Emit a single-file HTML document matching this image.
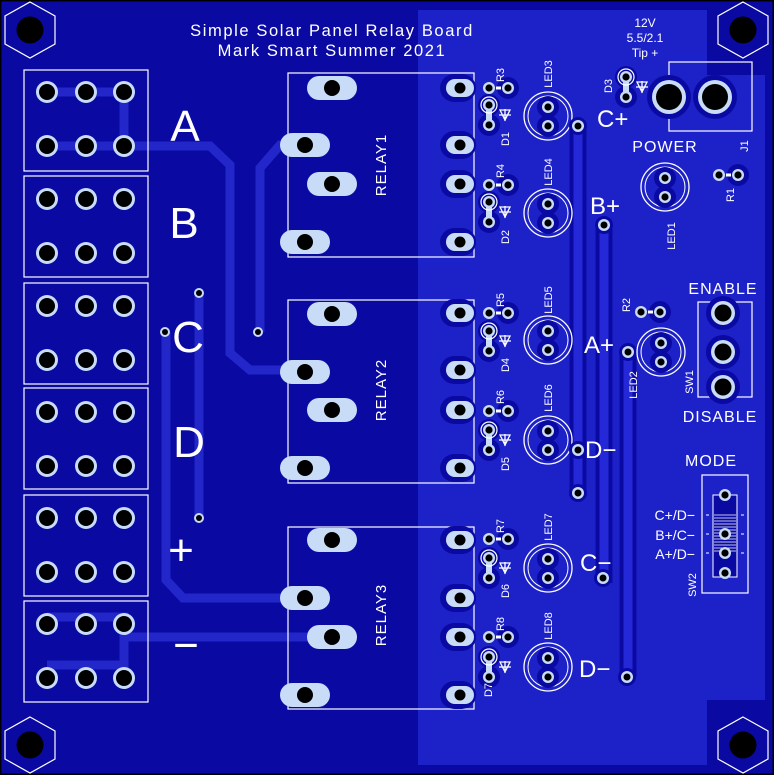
<!DOCTYPE html>
<html><head><meta charset="utf-8"><style>
html,body{margin:0;padding:0;background:#0a0aa3}
svg{display:block}
text{font-family:"Liberation Sans","DejaVu Sans",sans-serif;fill:#fff}
</style></head><body>
<svg width="774" height="775" viewBox="0 0 774 775" xmlns="http://www.w3.org/2000/svg">
<defs>
<g id="sp"><circle r="6" fill="#c8dcf8"/><circle r="3.6" fill="#000"/></g>
<g id="th"><circle r="11" fill="#c8dcf8"/><circle r="8" fill="#000"/></g>
<g id="ovL"><rect x="-25" y="-12" width="50" height="24" rx="12" fill="#c8dcf8"/><circle r="8" fill="#000"/></g>
<g id="ovS"><rect x="-20" y="-14" width="36" height="28" rx="14" fill="#0a0aa3"/><rect x="-14" y="-9" width="28" height="18" rx="9" fill="#c8dcf8"/><circle r="5.5" fill="#000"/></g>
<g id="hex"><polygon points="0,-28 25,-14 25,14 0,28 -25,14 -25,-14" fill="none" stroke="#fff" stroke-width="1.2"/><circle r="13.5" fill="#000"/></g>
<g id="led"><circle r="24" fill="none" stroke="#fff" stroke-width="1.3"/><circle r="20" fill="none" stroke="#fff" stroke-width="1"/><circle cy="-9" r="11" fill="#0a0aa3"/><circle cy="10" r="11" fill="#0a0aa3"/><use href="#sp" y="-9"/><use href="#sp" y="10"/></g>
<g id="res"><circle cx="19" r="11" fill="#0a0aa3"/><use href="#sp"/><use href="#sp" x="19"/><rect x="7" y="-1.5" width="5" height="3" fill="#fff"/></g>
<g id="dio"><circle r="11" fill="#0a0aa3"/><circle cy="20" r="11" fill="#0a0aa3"/><rect x="-3" y="0" width="6" height="20" fill="#c8dcf8"/><use href="#sp"/><use href="#sp" y="20"/><circle r="8" fill="none" stroke="#fff" stroke-width="1.2"/>
<path d="M10,10 h12 M16,4 v12 M11,5 l5,10 l5,-10 z" stroke="#fff" stroke-width="1.3" fill="none"/></g>
</defs>
<rect width="774" height="775" fill="#0a0aa3"/>
<rect x="0.5" y="0.5" width="773" height="774" fill="none" stroke="#000" stroke-width="2"/>
<path d="M418,10 H707 V75 H765 V700 H707 V765 H418 Z" fill="#1d22c8"/>
<g stroke="#2326c9" stroke-width="9" fill="none">
<path d="M47,92 H124 V146 H47 M124,146 H210 L230,165 V353 L250,370 H305"/>
<path d="M305,145 H280 L260,168 V332"/>
<path d="M199,293 V518"/>
<path d="M166,332 V580 L183,598 H305"/>
<path d="M47,617 H124 V665 H47 M124,637 H332"/>
</g>
<g fill="none">
<path d="M578,126 V493" stroke="#0a0aa3" stroke-width="17"/>
<path d="M604,225 V583" stroke="#0a0aa3" stroke-width="17"/>
<path d="M628,352 V677" stroke="#0a0aa3" stroke-width="17"/>
<path d="M578,126 V493" stroke="#2428d6" stroke-width="9"/>
<path d="M604,225 V583" stroke="#2428d6" stroke-width="9"/>
<path d="M628,352 V677" stroke="#2428d6" stroke-width="9"/>
</g>
<use href="#hex" x="30" y="30"/><use href="#hex" x="743" y="30"/>
<use href="#hex" x="30" y="745"/><use href="#hex" x="743" y="745"/>
<text x="332" y="36" font-size="16.5" text-anchor="middle" letter-spacing="1.6">Simple Solar Panel Relay Board</text>
<text x="332" y="56" font-size="16.5" text-anchor="middle" letter-spacing="1.6">Mark Smart Summer 2021</text>
<g fill="none" stroke="#fff" stroke-width="1.2">
<rect x="24" y="70" width="124" height="101"/><rect x="24" y="176" width="124" height="101"/>
<rect x="24" y="283" width="124" height="101"/><rect x="24" y="388" width="124" height="101"/>
<rect x="24" y="495" width="124" height="101"/><rect x="24" y="601" width="124" height="101"/>
</g>
<g>
<use href="#th" x="47" y="92"/><use href="#th" x="86" y="92"/><use href="#th" x="124" y="92"/>
<use href="#th" x="47" y="146"/><use href="#th" x="86" y="146"/><use href="#th" x="124" y="146"/>
<use href="#th" x="47" y="199"/><use href="#th" x="86" y="199"/><use href="#th" x="124" y="199"/>
<use href="#th" x="47" y="253"/><use href="#th" x="86" y="253"/><use href="#th" x="124" y="253"/>
<use href="#th" x="47" y="306"/><use href="#th" x="86" y="306"/><use href="#th" x="124" y="306"/>
<use href="#th" x="47" y="360"/><use href="#th" x="86" y="360"/><use href="#th" x="124" y="360"/>
<use href="#th" x="47" y="412"/><use href="#th" x="86" y="412"/><use href="#th" x="124" y="412"/>
<use href="#th" x="47" y="466"/><use href="#th" x="86" y="466"/><use href="#th" x="124" y="466"/>
<use href="#th" x="47" y="518"/><use href="#th" x="86" y="518"/><use href="#th" x="124" y="518"/>
<use href="#th" x="47" y="572"/><use href="#th" x="86" y="572"/><use href="#th" x="124" y="572"/>
<use href="#th" x="47" y="624"/><use href="#th" x="86" y="624"/><use href="#th" x="124" y="624"/>
<use href="#th" x="47" y="678"/><use href="#th" x="86" y="678"/><use href="#th" x="124" y="678"/>
</g>
<g font-size="44">
<text x="185" y="141" text-anchor="middle">A</text>
<text x="184" y="238" text-anchor="middle">B</text>
<text x="188" y="352" text-anchor="middle">C</text>
<text x="189" y="457" text-anchor="middle">D</text>
<text x="181" y="565" text-anchor="middle">+</text>
<text x="186" y="660" text-anchor="middle">−</text>
</g>
<g><circle cx="199" cy="293" r="5" fill="#c8dcf8"/><circle cx="199" cy="293" r="3" fill="#000"/>
<circle cx="165" cy="332" r="5" fill="#c8dcf8"/><circle cx="165" cy="332" r="3" fill="#000"/>
<circle cx="258" cy="332" r="5" fill="#c8dcf8"/><circle cx="258" cy="332" r="3" fill="#000"/>
<circle cx="199" cy="518" r="5" fill="#c8dcf8"/><circle cx="199" cy="518" r="3" fill="#000"/></g>
<g fill="none" stroke="#fff" stroke-width="1.2">
<rect x="288" y="73" width="186" height="184"/>
<rect x="288" y="300" width="186" height="183"/>
<rect x="288" y="527" width="186" height="182"/>
</g>
<use href="#ovL" x="332" y="88"/><use href="#ovL" x="305" y="145"/><use href="#ovL" x="332" y="184"/><use href="#ovL" x="305" y="242"/>
<use href="#ovL" x="332" y="314"/><use href="#ovL" x="305" y="372"/><use href="#ovL" x="332" y="410"/><use href="#ovL" x="305" y="468"/>
<use href="#ovL" x="332" y="540"/><use href="#ovL" x="305" y="598"/><use href="#ovL" x="332" y="637"/><use href="#ovL" x="305" y="695"/>
<use href="#ovS" x="460" y="88"/><use href="#ovS" x="460" y="145"/><use href="#ovS" x="460" y="184"/><use href="#ovS" x="460" y="242"/>
<use href="#ovS" x="460" y="313"/><use href="#ovS" x="460" y="370"/><use href="#ovS" x="460" y="410"/><use href="#ovS" x="460" y="468"/>
<use href="#ovS" x="460" y="540"/><use href="#ovS" x="460" y="598"/><use href="#ovS" x="460" y="637"/><use href="#ovS" x="460" y="695"/>
<g font-size="15" letter-spacing="1">
<text transform="translate(386,165) rotate(-90)" text-anchor="middle">RELAY1</text>
<text transform="translate(386,390) rotate(-90)" text-anchor="middle">RELAY2</text>
<text transform="translate(386,615) rotate(-90)" text-anchor="middle">RELAY3</text>
</g>
<use href="#res" x="489" y="88"/><use href="#res" x="489" y="185"/>
<use href="#res" x="489" y="313"/><use href="#res" x="489" y="411"/>
<use href="#res" x="489" y="539"/><use href="#res" x="489" y="637"/>
<use href="#dio" x="489" y="105"/><use href="#dio" x="489" y="202"/>
<use href="#dio" x="489" y="331"/><use href="#dio" x="489" y="430"/>
<use href="#dio" x="489" y="558"/><use href="#dio" x="489" y="657"/>
<g font-size="11">
<text transform="translate(504,75) rotate(-90)" text-anchor="middle">R3</text>
<text transform="translate(504,171) rotate(-90)" text-anchor="middle">R4</text>
<text transform="translate(504,300) rotate(-90)" text-anchor="middle">R5</text>
<text transform="translate(504,397) rotate(-90)" text-anchor="middle">R6</text>
<text transform="translate(504,526) rotate(-90)" text-anchor="middle">R7</text>
<text transform="translate(504,624) rotate(-90)" text-anchor="middle">R8</text>
<text transform="translate(509,139) rotate(-90)" text-anchor="middle">D1</text>
<text transform="translate(509,237) rotate(-90)" text-anchor="middle">D2</text>
<text transform="translate(509,365) rotate(-90)" text-anchor="middle">D4</text>
<text transform="translate(509,464) rotate(-90)" text-anchor="middle">D5</text>
<text transform="translate(509,591) rotate(-90)" text-anchor="middle">D6</text>
<text transform="translate(492,690) rotate(-90)" text-anchor="middle">D7</text>
<text transform="translate(552,74) rotate(-90)" text-anchor="middle">LED3</text>
<text transform="translate(552,172) rotate(-90)" text-anchor="middle">LED4</text>
<text transform="translate(552,300) rotate(-90)" text-anchor="middle">LED5</text>
<text transform="translate(552,398) rotate(-90)" text-anchor="middle">LED6</text>
<text transform="translate(552,527) rotate(-90)" text-anchor="middle">LED7</text>
<text transform="translate(552,626) rotate(-90)" text-anchor="middle">LED8</text>
</g>
<use href="#led" x="548" y="116"/><use href="#led" x="548" y="213"/>
<use href="#led" x="548" y="340"/><use href="#led" x="548" y="440"/>
<use href="#led" x="548" y="568"/><use href="#led" x="548" y="667"/>
<g>
<circle cx="578" cy="126" r="9" fill="#0a0aa3"/><circle cx="578" cy="126" r="6" fill="#c8dcf8"/><circle cx="578" cy="126" r="3.5" fill="#000"/>
<circle cx="604" cy="225" r="9" fill="#0a0aa3"/><circle cx="604" cy="225" r="6" fill="#c8dcf8"/><circle cx="604" cy="225" r="3.5" fill="#000"/>
<circle cx="628" cy="352" r="9" fill="#0a0aa3"/><circle cx="628" cy="352" r="6" fill="#c8dcf8"/><circle cx="628" cy="352" r="3.5" fill="#000"/>
<circle cx="578" cy="450" r="9" fill="#0a0aa3"/><circle cx="578" cy="450" r="6" fill="#c8dcf8"/><circle cx="578" cy="450" r="3.5" fill="#000"/>
<circle cx="578" cy="493" r="9" fill="#0a0aa3"/><circle cx="578" cy="493" r="6" fill="#c8dcf8"/><circle cx="578" cy="493" r="3.5" fill="#000"/>
<circle cx="603" cy="578" r="9" fill="#0a0aa3"/><circle cx="603" cy="578" r="6" fill="#c8dcf8"/><circle cx="603" cy="578" r="3.5" fill="#000"/>
<circle cx="627" cy="677" r="9" fill="#0a0aa3"/><circle cx="627" cy="677" r="6" fill="#c8dcf8"/><circle cx="627" cy="677" r="3.5" fill="#000"/>
</g>
<g font-size="24">
<text x="597" y="127">C+</text>
<text x="590" y="214">B+</text>
<text x="584" y="353">A+</text>
<text x="585" y="458">D−</text>
<text x="580" y="571">C−</text>
<text x="579" y="677">D−</text>
</g>
<g font-size="12" text-anchor="middle">
<text x="645" y="27">12V</text>
<text x="645" y="42">5.5/2.1</text>
<text x="645" y="57">Tip +</text>
</g>
<rect x="669" y="62" width="83" height="69" fill="none" stroke="#fff" stroke-width="1.2"/>
<circle cx="669" cy="97" r="22" fill="#0a0aa3"/><circle cx="715" cy="97" r="22" fill="#0a0aa3"/>
<circle cx="669" cy="97" r="17" fill="#c8dcf8"/><circle cx="669" cy="97" r="13" fill="#000"/>
<circle cx="715" cy="97" r="17" fill="#c8dcf8"/><circle cx="715" cy="97" r="13" fill="#000"/>
<use href="#dio" x="626" y="77"/>
<text transform="translate(612,86) rotate(-90)" font-size="11" text-anchor="middle">D3</text>
<text transform="translate(748,146) rotate(-90)" font-size="11" text-anchor="middle">J1</text>
<text x="665" y="152" font-size="16" text-anchor="middle" letter-spacing="1">POWER</text>
<use href="#led" x="665" y="187"/>
<text transform="translate(675,236) rotate(-90)" font-size="11" text-anchor="middle">LED1</text>
<use href="#res" x="719" y="175"/>
<text transform="translate(734,195) rotate(-90)" font-size="11" text-anchor="middle">R1</text>
<use href="#res" x="641" y="312"/>
<text transform="translate(630,305) rotate(-90)" font-size="11" text-anchor="middle">R2</text>
<use href="#led" x="661" y="352"/>
<text transform="translate(637,385) rotate(-90)" font-size="11" text-anchor="middle">LED2</text>
<text transform="translate(693,382) rotate(-90)" font-size="11" text-anchor="middle">SW1</text>
<text x="723" y="294" font-size="16" text-anchor="middle" letter-spacing="1">ENABLE</text>
<rect x="698" y="302" width="54" height="95" fill="none" stroke="#fff" stroke-width="1.2"/>
<g>
<circle cx="723" cy="313" r="17" fill="#0a0aa3"/><circle cx="723" cy="352" r="17" fill="#0a0aa3"/><circle cx="723" cy="387" r="17" fill="#0a0aa3"/>
<circle cx="723" cy="313" r="12" fill="#c8dcf8"/><circle cx="723" cy="313" r="8.5" fill="#000"/>
<circle cx="723" cy="352" r="12" fill="#c8dcf8"/><circle cx="723" cy="352" r="8.5" fill="#000"/>
<circle cx="723" cy="387" r="12" fill="#c8dcf8"/><circle cx="723" cy="387" r="8.5" fill="#000"/>
</g>
<text x="720" y="422" font-size="16" text-anchor="middle" letter-spacing="1">DISABLE</text>
<text x="711" y="466" font-size="16" text-anchor="middle" letter-spacing="1">MODE</text>
<rect x="702" y="475" width="46" height="118" fill="none" stroke="#fff" stroke-width="1.2"/>
<rect x="713" y="495" width="24" height="82" fill="#0a0aa3" stroke="#fff" stroke-width="1"/>
<g stroke="#fff" stroke-width="0.8">
<path d="M714,515h22M714,518h22M714,521h22M714,524h22M714,527h22M714,530h22M714,533h22M714,536h22M714,539h22M714,542h22M714,545h22M714,548h22M714,551h22"/>
<path d="M706,515h3M741,515h3M706,534h3M741,534h3M706,553h3M741,553h3" stroke-width="1"/>
</g>
<use href="#sp" x="725" y="495"/><use href="#sp" x="725" y="534"/><use href="#sp" x="725" y="553"/><use href="#sp" x="725" y="573"/>
<g font-size="14" text-anchor="end">
<text x="695" y="520">C+/D−</text>
<text x="695" y="540">B+/C−</text>
<text x="695" y="559">A+/D−</text>
</g>
<text transform="translate(696,585) rotate(-90)" font-size="11" text-anchor="middle">SW2</text>
</svg>
</body></html>
